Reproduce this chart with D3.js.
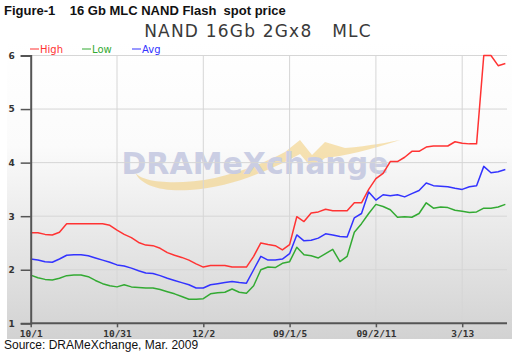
<!DOCTYPE html>
<html><head><meta charset="utf-8">
<script src="https://cdn.jsdelivr.net/npm/d3@7"></script>
<style>body{margin:0;background:#fff}svg{display:block}</style>
</head><body>
<svg id="c" width="514" height="353"></svg>
<script>
const xTickLabels = ["10/1","10/31","12/2","09/1/5","09/2/11","3/13"];
const xTickIndex = [0,12,24,36,48,60];
const yTicks = [1,2,3,4,5,6];
const high = [2.69,2.69,2.66,2.65,2.70,2.86,2.86,2.86,2.86,2.86,2.86,2.83,2.74,2.66,2.60,2.51,2.46,2.45,2.40,2.32,
  2.27,2.23,2.18,2.11,2.05,2.08,2.08,2.08,2.05,2.05,2.05,2.25,2.50,2.47,2.45,2.37,2.47,2.99,2.90,3.06,
  3.08,3.13,3.10,3.10,3.10,3.25,3.25,3.50,3.70,3.80,4.02,4.02,4.10,4.21,4.21,4.29,4.31,4.31,4.31,4.39,
  4.36,4.35,4.35,6.0,6.0,5.81,5.85];
const low = [1.90,1.85,1.82,1.81,1.84,1.89,1.90,1.90,1.87,1.80,1.74,1.70,1.68,1.72,1.68,1.67,1.66,1.66,1.63,1.59,
  1.55,1.50,1.45,1.45,1.46,1.55,1.57,1.58,1.64,1.58,1.56,1.70,2.00,2.05,2.04,2.12,2.15,2.42,2.28,2.26,
  2.22,2.30,2.38,2.15,2.25,2.70,2.86,3.05,3.22,3.18,3.12,2.98,2.99,2.98,3.05,3.25,3.15,3.17,3.16,3.11,
  3.09,3.07,3.08,3.15,3.15,3.17,3.22];
const avg = [2.20,2.18,2.15,2.14,2.20,2.27,2.28,2.28,2.26,2.22,2.18,2.14,2.09,2.07,2.03,1.98,1.94,1.93,1.89,1.84,
  1.80,1.76,1.72,1.66,1.66,1.72,1.74,1.76,1.78,1.76,1.75,2.00,2.25,2.18,2.18,2.20,2.30,2.65,2.54,2.55,
  2.59,2.67,2.65,2.62,2.61,2.97,3.05,3.45,3.30,3.40,3.38,3.40,3.36,3.42,3.48,3.62,3.57,3.56,3.55,3.52,
  3.50,3.55,3.57,3.93,3.81,3.83,3.87];
const seriesNames = ["High","Low","Avg"];
const seriesColors = ["#ff3333","#33aa33","#3333ff"];
const seriesData = [high, low, avg];

const svg = d3.select("#c");
const L = 30.7, R = 507, T = 55.5, B = 323.3;
const x = d3.scaleLinear().domain([0, 60]).range([L, L + 86.3*5]);
const y = d3.scaleLinear().domain([1, 6]).range([B, T]);

// background gradient
const defs = svg.append("defs");
const g1 = defs.append("linearGradient").attr("id","bg").attr("x1",0).attr("y1",0).attr("x2",0).attr("y2",1);
g1.append("stop").attr("offset","0%").attr("stop-color","#ffffff");
g1.append("stop").attr("offset","35%").attr("stop-color","#fbfbfb");
g1.append("stop").attr("offset","100%").attr("stop-color","#d2d2d2");
svg.append("rect").attr("x",7).attr("y",42).attr("width",505).attr("height",297).attr("fill","url(#bg)");

// titles
svg.append("text").attr("x",4).attr("y",15).attr("font-family","Liberation Sans, Arial, sans-serif")
  .attr("font-weight","bold").attr("font-size",13).attr("fill","#111")
  .attr("xml:space","preserve").text("Figure-1    16 Gb MLC NAND Flash  spot price");
svg.append("text").attr("x",258).attr("y",37).attr("text-anchor","middle")
  .attr("font-family","DejaVu Sans, Verdana, sans-serif").attr("font-size",17).attr("letter-spacing",1.2)
  .attr("fill","#3a3a3a")
  .attr("xml:space","preserve").text("NAND 16Gb 2Gx8   MLC");

// legend
const legX = [30, 82, 132];
seriesNames.forEach((n,i)=>{
  const lg = svg.append("g").attr("transform",`translate(${legX[i]},49)`);
  lg.append("line").attr("x1",0).attr("x2",9).attr("y1",0).attr("y2",0).attr("stroke",seriesColors[i]).attr("stroke-width",1);
  lg.append("text").attr("x",10).attr("y",4).attr("font-family","DejaVu Sans, Verdana, sans-serif")
    .attr("font-size",10).attr("fill",seriesColors[i]).text(n);
});

// watermark
const wm = svg.append("g").attr("opacity",0.5);
wm.append("path").attr("d","M135,172 C140,182 175,186 215,178 C240,172 262,164 285,152 L300,140 L312,155 L325,142 L345,148 C370,146 390,142 400,140 C370,150 345,156 325,158 L312,168 L300,154 L285,162 C255,176 225,188 190,190 C160,192 140,185 135,172 Z")
  .attr("fill","#f2c96a");
wm.append("text").attr("x",255).attr("y",174).attr("text-anchor","middle")
  .attr("font-family","DejaVu Sans, Verdana, sans-serif").attr("font-weight","bold").attr("font-size",30)
  .attr("fill","#9ea5d0").text("DRAMeXchange");

// grid
const grid = svg.append("g").attr("stroke","#d6d6d6").attr("stroke-width",1);
yTicks.filter(v=>v>1).forEach(v=>grid.append("line").attr("x1",L).attr("x2",R).attr("y1",y(v)).attr("y2",y(v)));
xTickIndex.forEach(i=>{ if(i>0) grid.append("line").attr("x1",x(i)).attr("x2",x(i)).attr("y1",T).attr("y2",B); });

// lines
const line = d3.line().x((d,i)=>x(i)).y(d=>y(d));
seriesData.forEach((s,k)=>{
  svg.append("path").datum(s).attr("d",line).attr("fill","none").attr("stroke",seriesColors[k])
    .attr("stroke-width",1.5).attr("stroke-linejoin","round");
});

// axes
const yAxis = d3.axisLeft(y).tickValues(yTicks).tickSize(10).tickPadding(6).tickFormat(d3.format("d"));
const ya = svg.append("g").attr("transform",`translate(${L},0)`).call(yAxis);
ya.select(".domain").attr("stroke","#555").attr("stroke-width",2);
ya.selectAll(".tick line").attr("stroke","#555").attr("stroke-width",1.5);
ya.selectAll(".tick text").attr("font-family","DejaVu Sans, Verdana, sans-serif").attr("font-size",9).attr("font-weight","bold").attr("fill","#333");

const xAxis = d3.axisBottom(x).tickValues(xTickIndex).tickSize(4).tickPadding(3).tickFormat((d,i)=>xTickLabels[i]);
const xa = svg.append("g").attr("transform",`translate(0,${B})`).call(xAxis);
xa.select(".domain").attr("d",`M${L},0H${R}`).attr("stroke","#555").attr("stroke-width",2);
xa.selectAll(".tick line").attr("stroke","#555").attr("stroke-width",1.5);
xa.selectAll(".tick text").attr("font-family","DejaVu Sans Mono, monospace").attr("font-size",9.5).attr("font-weight","bold").attr("fill","#333");

// source
svg.append("text").attr("x",4).attr("y",349).attr("font-family","Liberation Sans, Arial, sans-serif")
  .attr("font-size",12).attr("fill","#111").text("Source: DRAMeXchange, Mar. 2009");
</script>
</body></html>
